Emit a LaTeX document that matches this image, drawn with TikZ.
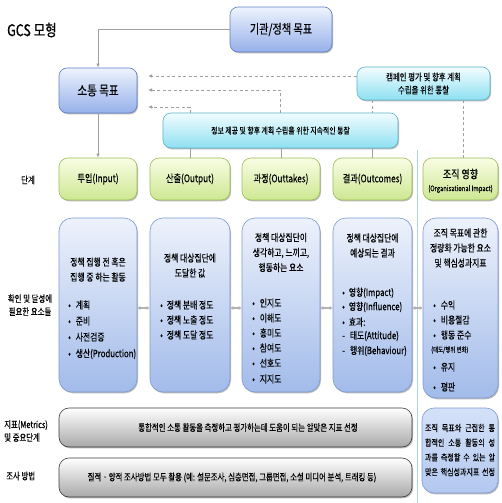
\documentclass[tikz,border=0pt]{standalone}
\usepackage{fontspec}
\setmainfont{Noto Sans CJK KR}[FakeStretch=0.78,FakeBold=0.3]
\usetikzlibrary{arrows.meta,shadows}
\definecolor{blueT}{HTML}{EEF3FD}
\definecolor{blueB}{HTML}{95B0EA}
\definecolor{blueD}{HTML}{5F80C6}
\definecolor{cyanT}{HTML}{F2FCFE}
\definecolor{cyanB}{HTML}{8EE0F2}
\definecolor{cyanD}{HTML}{5AB4CA}
\definecolor{grnT}{HTML}{F9FDE4}
\definecolor{grnB}{HTML}{CDE792}
\definecolor{grnD}{HTML}{9DBB55}
\definecolor{bodyT}{HTML}{EDF2FB}
\definecolor{bodyB}{HTML}{A2BBEA}
\definecolor{bodyD}{HTML}{7E9AD2}
\definecolor{gryB}{HTML}{A8A8A8}
\definecolor{gryD}{HTML}{3C3C3C}
\definecolor{rbT}{HTML}{D4E1F8}
\definecolor{rbB}{HTML}{B3C8F0}
\definecolor{sepC}{HTML}{A8D6E6}
\definecolor{lineG}{HTML}{A0A0A0}
\begin{document}
\begin{tikzpicture}[x=1pt,y=-1pt,
  shad/.style={drop shadow={shadow xshift=1pt,shadow yshift=-1.3pt,opacity=.45,fill=black!60}},
  rbox/.style={shad,rounded corners=#1,inner sep=1pt,line width=0.6pt,align=center},
  bluebox/.style={rbox=8pt,draw=blueD,top color=blueT,bottom color=blueB},
  cyanbox/.style={rbox=8pt,draw=cyanD,top color=cyanT,bottom color=cyanB},
  grnbox/.style={rbox=9pt,draw=grnD,top color=grnT,bottom color=grnB,minimum height=42pt},
  bodybox/.style={rbox=13pt,draw=bodyD,top color=bodyT,bottom color=bodyB},
  grybox/.style={rbox=10pt,draw=gryD,top color=white,bottom color=gryB,minimum width=353pt,minimum height=39pt},
  rbbox/.style={rbox=12pt,draw=bodyD,top color=rbT,bottom color=rbB},
  garrow/.style={draw=lineG,line width=0.8pt,-{Latex[length=4pt,width=3.5pt]}},
  gline/.style={draw=lineG,line width=0.8pt},
  darrow/.style={draw=lineG,line width=0.9pt,dashed,dash pattern=on 3pt off 2.5pt,-{Latex[length=4pt,width=3.5pt]}},
  dline/.style={draw=lineG,line width=0.9pt,dash pattern=on 3pt off 2.5pt},
  dbl/.style={draw=black!30,line width=1.6pt,{Latex[length=3pt,width=4pt]}-{Latex[length=3pt,width=4pt]}},
  hd/.style={inner sep=0,align=center,font=\fontsize{10}{15}\selectfont},
  bl/.style={inner sep=0,anchor=west,font=\fontsize{10}{12}\selectfont},
  lab/.style={inner sep=0,align=center,font=\fontsize{9.5}{13}\selectfont}]
\useasboundingbox (0,0) rectangle (501,503);
\fill[white] (0,0) rectangle (501,503);

% separator
\draw[sepC,line width=0.9pt] (417,150) -- (417,503);

% title and row labels
\node[inner sep=0,anchor=west,font=\fontsize{16}{18}\selectfont] (title) at (7,30) {GCS 모형};
\node[lab] (l-stage) at (28,180) {단계};
\node[lab] (l-elem) at (30,305) {확인 및 달성에\\필요한 요소들};
\node[lab,align=left,anchor=west] (l-met) at (4,431) {지표(Metrics)\\및 중요단계};
\node[lab,anchor=west] (l-meth) at (6,476) {조사 방법};

% top boxes
\node[bluebox,minimum width=102pt,minimum height=45pt,font=\fontsize{13}{15}\selectfont] (top) at (281,29.5) {기관/정책 목표};
\node[bluebox,minimum width=78pt,minimum height=45pt,font=\fontsize{13.5}{15}\selectfont] (comm) at (98,90.5) {소통 목표};
\node[cyanbox,minimum width=133pt,minimum height=33pt,font=\fontsize{9.5}{13}\selectfont] (camp) at (423.5,83.5) {캠페인 평가 및 향후 계획\\수립을 위한 통찰};
\node[cyanbox,minimum width=235pt,minimum height=35pt,font=\fontsize{8.8}{11}\selectfont] (info) at (280.5,130.5) {정보 제공 및 향후 계획 수립을 위한 지속적인 통찰};

% stage boxes
\node[grnbox,minimum width=78pt,font=\fontsize{10.5}{12}\selectfont] (g1) at (98,179) {투입(Input)};
\node[grnbox,minimum width=80pt,font=\fontsize{10.5}{12}\selectfont] (g2) at (190,179) {산출(Output)};
\node[grnbox,minimum width=78pt,font=\fontsize{10.5}{12}\selectfont] (g3) at (281,179) {과정(Outtakes)};
\node[grnbox,minimum width=79pt,font=\fontsize{10.5}{12}\selectfont] (g4) at (372.5,179) {결과(Outcomes)};
\node[grnbox,minimum width=75pt] (g5) at (460.5,179) {};
\node[inner sep=0,font=\fontsize{11.5}{13}\selectfont] (g5a) at (460.5,174) {조직 영향};
\node[inner sep=0,font=\fontsize{7.5}{8}\selectfont] (g5b) at (460.5,189) {(Organisational Impact)};

% connectors top
\draw[garrow] (top.west) -| (comm.north);
\draw[garrow] (comm.south) -- (g1.north);
\coordinate (a1) at (148,76);
\coordinate (a2) at (148,90);
\coordinate (a3) at (148,107);
\coordinate (v5) at (463,0);
\draw[darrow] (camp.west |- a1) -- (a1);
\draw[darrow] (info.north) |- (a2);
\draw[darrow] (info.north -| g2.north) |- (a3);
\draw[dline] (camp.south -| g4.north) -- (info.north -| g4.north);
\draw[dline] (camp.south -| v5) -- (g5.north -| v5);
\draw[gline] (info.south -| g2.north) -- (g2.north);
\draw[gline] (info.south -| g3.north) -- (g3.north);
\draw[gline] (info.south -| g4.north) -- (g4.north);

% body boxes
\node[bodybox,minimum width=78pt,minimum height=174pt] (b1) at (98,305) {};
\node[bodybox,minimum width=80pt,minimum height=174pt] (b2) at (190,305) {};
\node[bodybox,minimum width=78pt,minimum height=174pt] (b3) at (281,305) {};
\node[bodybox,minimum width=79pt,minimum height=174pt] (b4) at (372.5,305) {};
\node[bodybox,minimum width=75pt,minimum height=180pt] (b5) at (460.5,308) {};

\coordinate (mid) at (0,308);
\draw[dbl] (b1.east |- mid) -- (b2.west |- mid);
\draw[dbl] (b2.east |- mid) -- (b3.west |- mid);
\draw[dbl] (b3.east |- mid) -- (b4.west |- mid);
\draw[dbl] (b4.east |- mid) -- (b5.west |- mid);

% body headings
\node[hd] (h1) at (98,269.5) {정책 집행 전 혹은\\집행 중 하는 활동};
\node[hd] (h2) at (190,265.5) {정책 대상집단에\\도달한 값};
\node[hd] (h3) at (281,252.5) {정책 대상집단이\\생각하고, 느끼고,\\행동하는 요소};
\node[hd] (h4) at (372.5,245.5) {정책 대상집단에\\예상되는 결과};
\node[hd] (h5) at (460.5,248) {조직 목표에 관한\\정량화 가능한 요소\\및 핵심성과지표};

% bullets
\foreach \yy/\txt [count=\i] in {305/계획,321/준비,337/사전검증,354/생산(Production)}
  \node[bl] (p1-\i) at (68,\yy) {•\hspace{5pt}\txt};
\foreach \yy/\txt [count=\i] in {305/정책 분배 정도,320/정책 노출 정도,335/정책 도달 정도}
  \node[bl] (p2-\i) at (160,\yy) {•\hspace{4pt}\txt};
\foreach \yy/\txt [count=\i] in {303/인지도,318/이해도,333/흥미도,348/참여도,363/선호도,379/지지도}
  \node[bl] (p3-\i) at (252,\yy) {•\hspace{5pt}\txt};
\foreach \yy/\txt [count=\i] in {293/영향(Impact),307/영향(Influence),322/효과:}
  \node[bl] (p4-\i) at (342,\yy) {•\hspace{4pt}\txt};
\foreach \yy/\txt [count=\i] in {336/태도(Attitude),351/행위(Behaviour)}
  \node[bl] (q4-\i) at (342,\yy) {-\hspace{5pt}\txt};
\foreach \yy/\txt [count=\i] in {305/수익,320/비용절감,335/행동 준수,367/유지,387/평판}
  \node[bl] (p5-\i) at (433,\yy) {•\hspace{5pt}\txt};
\node[bl,font=\fontsize{7}{8}\selectfont] (p5-x) at (431,350) {(태도/행위 변화)};

% bottom rows
\node[grybox] (met) at (235.5,427.5) {};
\node[lab,font=\fontsize{9.5}{12}\selectfont] (met-t) at (248,427.5) {통합적인 소통 활동을 측정하고 평가하는데 도움이 되는 알맞은 지표 선정};
\node[grybox] (meth) at (235.5,477.5) {};
\node[lab,font=\fontsize{9.5}{12}\selectfont] (meth-t) at (232,477.5) {질적 · 양적 조사방법 모두 활용 (예: 설문조사, 심층면접, 그룹면접, 소셜 미디어 분석, 트래킹 등)};

\node[rbbox,minimum width=76pt,minimum height=85pt] (rb) at (460,450.5) {};
\node[lab,font=\fontsize{9}{14.7}\selectfont] (rb-t) at (460,450) {\makebox[70pt][s]{조직 목표와 근접한 통}\\\makebox[70pt][s]{합적인 소통 활동의 성}\\\makebox[70pt][s]{과를 측정할 수 있는 알}\\\makebox[70pt][s]{맞은 핵심성과지표 선정}};
\end{tikzpicture}
\end{document}
